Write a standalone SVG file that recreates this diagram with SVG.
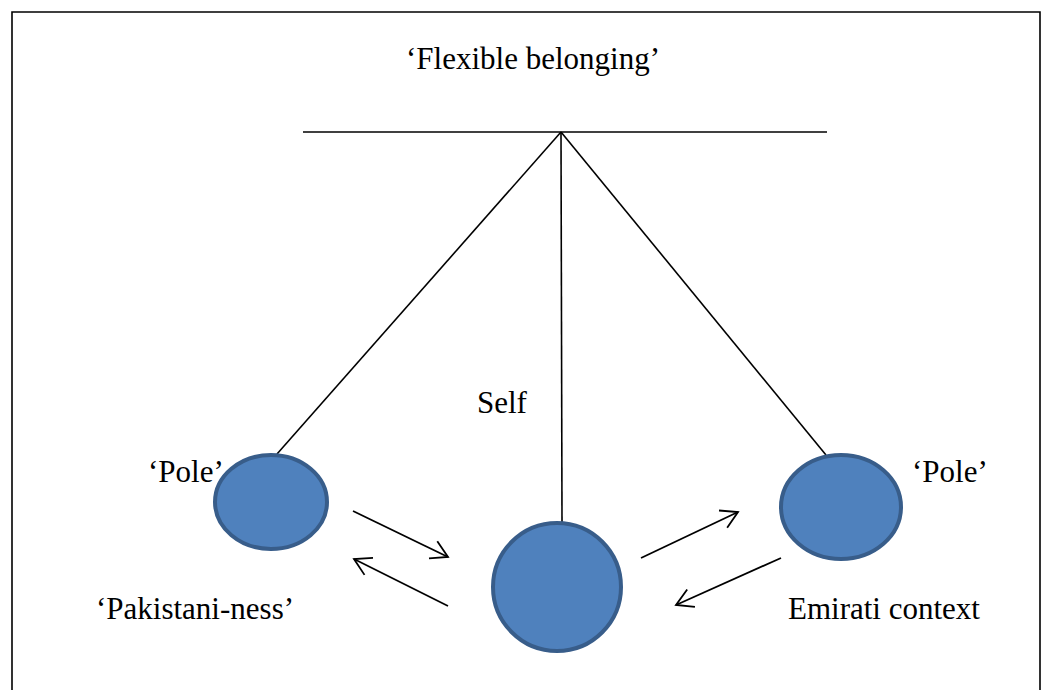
<svg xmlns="http://www.w3.org/2000/svg" width="1044" height="690" viewBox="0 0 1044 690">
<style>
.t{font-family:"Liberation Serif","Times New Roman",serif;font-size:31px;fill:#000}
.ln{stroke:#000;stroke-width:1.6;fill:none}
.ar{stroke:#000;stroke-width:1.8;fill:none}
.ball{fill:#4f81bd;stroke:#385d8a;stroke-width:4}
</style>
<defs>
<marker id="arr" viewBox="-19 -11 21 22" refX="0" refY="0" markerWidth="21" markerHeight="22" markerUnits="userSpaceOnUse" orient="auto">
<path d="M-16.5,-9.5 L0,0 L-16.5,9.5" fill="none" stroke="#000" stroke-width="1.8"/>
</marker>
</defs>
<rect width="1044" height="690" fill="#fff"/>
<g id="frame">
<path d="M12,690 L12,12 L1040,12 L1040,690" fill="none" stroke="#000" stroke-width="1.6"/>
</g>
<g id="title"><text class="t" x="406" y="69">‘Flexible belonging’</text></g>
<g id="connectors">
<line class="ln" x1="303" y1="132" x2="827" y2="132"/>
<line class="ln" x1="561" y1="132" x2="277" y2="454"/>
<line class="ln" x1="561" y1="132" x2="562" y2="522"/>
<line class="ln" x1="561" y1="132" x2="826" y2="455"/>
<line class="ar" x1="353" y1="511" x2="448" y2="557" marker-end="url(#arr)"/>
<line class="ar" x1="448" y1="606" x2="354" y2="559" marker-end="url(#arr)"/>
<line class="ar" x1="641" y1="558" x2="738" y2="512" marker-end="url(#arr)"/>
<line class="ar" x1="781" y1="558" x2="676" y2="605" marker-end="url(#arr)"/>
</g>
<g id="pole-left">
<text class="t" x="148" y="482">‘Pole’</text>
<ellipse class="ball" cx="271" cy="502" rx="56" ry="47"/>
</g>
<g id="self">
<text class="t" x="477" y="413">Self</text>
<circle class="ball" cx="557" cy="587" r="64"/>
</g>
<g id="pole-right">
<ellipse class="ball" cx="841" cy="507" rx="60" ry="52"/>
<text class="t" x="912" y="482">‘Pole’</text>
</g>
<g id="label-pakistani"><text class="t" x="96" y="619">‘Pakistani-ness’</text></g>
<g id="label-emirati"><text class="t" x="788" y="619">Emirati context</text></g>
</svg>
